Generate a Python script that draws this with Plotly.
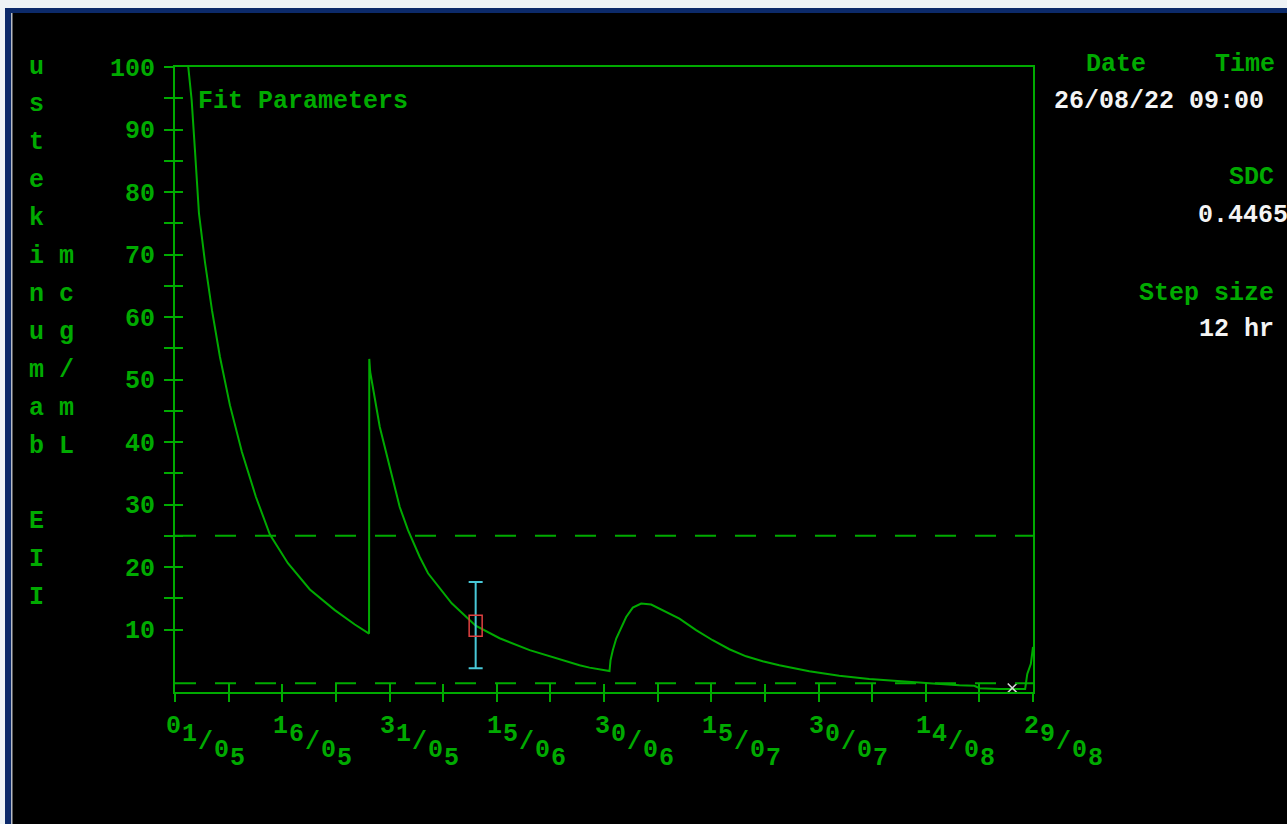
import plotly.graph_objects as go

# ---------------- data ----------------
# days since 01/05 and concentration (mcg/mL)
curve_day = [1.50, 1.86, 2.33, 2.79, 3.35, 4.19, 5.17, 6.29, 7.68, 9.36, 11.32, 13.27,
             15.79, 18.86, 22.35, 25.15, 27.14, 27.17, 27.30, 28.64, 29.57, 30.50, 31.43,
             32.59, 34.23, 35.39, 38.70, 42.05, 45.40, 49.60, 53.79, 56.58, 57.98, 59.37,
             60.77, 60.91, 61.23, 61.71, 62.41, 63.10, 64.03, 65.20, 66.60, 68.22, 70.55,
             72.88, 75.20, 77.54, 79.87, 82.19, 84.52, 88.71, 92.90, 97.10, 101.3, 105.5,
             109.7, 111.8, 112.5, 115.3, 118.9, 119.0, 119.2, 119.7, 119.9, 120.0]
curve_val = [104.0, 100.0, 94.7, 86.7, 76.6, 68.8, 61.1, 53.6, 45.9, 38.4, 31.2, 25.2,
             20.6, 16.4, 13.1, 10.8, 9.35, 53.3, 51.2, 42.4, 38.2, 33.9, 29.6,
             25.9, 21.6, 19.0, 14.2, 10.6, 8.6, 6.7, 5.2, 4.27, 3.9, 3.6,
             3.36, 5.07, 6.68, 8.55, 10.4, 12.0, 13.5, 14.15, 14.0, 13.1, 11.75,
             9.9, 8.28, 6.84, 5.71, 4.91, 4.27, 3.31, 2.6, 2.1, 1.7, 1.4,
             1.07, 1.0, 0.6, 0.5, 0.5, 1.35, 2.9, 4.5, 5.9, 7.2]

threshold_vals = [25.0, 1.4]

measure_day = [42.05]
measure_val = [10.6]
measure_err_plus = [7.0]
measure_err_minus = [6.8]

current_day = [117.1]
current_val = [0.64]

x_label_days = [0, 15, 30, 45, 60, 75, 90, 105, 120]
x_tick_labels = ["01/05", "16/05", "31/05", "15/06", "30/06", "15/07", "30/07", "14/08", "29/08"]
x_tick_days = [0, 7.5, 15, 22.5, 30, 37.5, 45, 52.5, 60, 67.5, 75, 82.5, 90, 97.5, 105, 112.5, 120]

y_tick_vals = [10, 15, 20, 25, 30, 35, 40, 45, 50, 55, 60, 65, 70, 75, 80, 85, 90, 95, 100]
y_tick_labels = ["10", "", "20", "", "30", "", "40", "", "50", "", "60", "", "70", "", "80", "", "90", "", "100"]

ylabel_col1 = ["u", "s", "t", "e", "k", "i", "n", "u", "m", "a", "b", "", "E", "I", "I"]
ylabel_col2 = ["", "", "", "", "", "m", "c", "g", "/", "m", "L", "", "", "", ""]

panel_title = "Fit Parameters"
info_date_head, info_time_head = "Date", "Time"
info_datetime = "26/08/22 09:00"
info_sdc_head, info_sdc = "SDC", "0.4465"
info_step_head, info_step = "Step size", "12 hr"

# ---------------- style ----------------
GREEN = "#00aa00"
WHITE = "#f4f4f4"
CYAN = "#48c8d8"
RED = "#e04040"
FONT = "Liberation Mono"
FS = 25

W, H = 1287, 824
L, R, T, B = 175, 254, 67, 132
PW, PH = W - L - R, H - T - B


def paper(px, py):
    return (px - L) / PW, (H - B - py) / PH


fig = go.Figure()

fig.add_trace(go.Scatter(x=curve_day, y=curve_val, mode="lines",
                         line=dict(color=GREEN, width=2), hoverinfo="skip",
                         showlegend=False))

fig.add_trace(go.Scatter(x=measure_day, y=measure_val, mode="markers",
                         marker=dict(size=1, color="rgba(0,0,0,0)"),
                         error_y=dict(type="data", symmetric=False,
                                      array=measure_err_plus, arrayminus=measure_err_minus,
                                      color=CYAN, thickness=2, width=7),
                         xaxis="x2", yaxis="y2", showlegend=False))

fig.add_trace(go.Scatter(x=current_day, y=current_val, mode="markers",
                         marker=dict(symbol="x-thin", size=9, color="#d8d8d8",
                                     line=dict(color="#d8d8d8", width=1.6)),
                         showlegend=False))

shapes = []
for tv in threshold_vals:
    shapes.append(dict(type="line", xref="x", yref="y", x0=0, x1=120, y0=tv, y1=tv,
                       line=dict(color=GREEN, width=2, dash="21px,19px")))
shapes.append(dict(type="rect", xref="x", yref="y",
                   xsizemode="pixel", xanchor=measure_day[0], x0=-6.5, x1=6.5,
                   ysizemode="pixel", yanchor=measure_val[0], y0=-10.5, y1=10.5,
                   line=dict(color=RED, width=1.5)))

# window border decorations (top/left)
def rect_px(x0, y0, x1, y1, color):
    a0, b0 = paper(x0, y0)
    a1, b1 = paper(x1, y1)
    return dict(type="rect", xref="paper", yref="paper", x0=a0, y0=b1, x1=a1, y1=b0,
                fillcolor=color, line=dict(width=0), layer="above")

shapes.append(rect_px(0, 0, W, 8, "#eef3f6"))
shapes.append(rect_px(0, 8, W, 13, "#0c2a6a"))
shapes.append(rect_px(0, 0, 5, H, "#eef3f6"))
shapes.append(rect_px(5, 8, 11, H, "#0c2a6a"))
shapes.append(rect_px(11, 13, 12.5, H, "#b8bcc4"))

annotations = []
font_g = dict(family=FONT, size=FS, color=GREEN, weight="bold")
font_w = dict(family=FONT, size=FS, color=WHITE, weight="bold")

# diagonal x tick labels, one character at a time
for d, lab in zip(x_label_days, x_tick_labels):
    for i, ch in enumerate(lab):
        annotations.append(dict(x=d, y=0, xref="x", yref="y", text=ch, showarrow=False,
                                xanchor="center", yanchor="middle",
                                xshift=-2 + 16 * i, yshift=-(34 + 8 * i),
                                font=font_g))

# vertical y-axis title letters
for k, (c1, c2) in enumerate(zip(ylabel_col1, ylabel_col2)):
    yc = 67 + 37.9 * k
    for ch, xc in ((c1, 36), (c2, 67)):
        if ch:
            ax, ay = paper(xc, yc)
            annotations.append(dict(x=ax, y=ay, xref="paper", yref="paper", text=ch,
                                    showarrow=False, xanchor="center", yanchor="middle",
                                    font=font_g))


def txt(text, px, py, anchor, font):
    ax, ay = paper(px, py)
    annotations.append(dict(x=ax, y=ay, xref="paper", yref="paper", text=text,
                            showarrow=False, xanchor=anchor, yanchor="middle", font=font))


txt(panel_title, 196, 101, "left", font_g)
txt(info_date_head, 1116, 64, "center", font_g)
txt(info_time_head, 1245, 64, "center", font_g)
txt(info_datetime, 1052, 101, "left", font_w)
txt(info_sdc_head, 1276, 177, "right", font_g)
txt(info_sdc, 1196, 216, "left", font_w)
txt(info_step_head, 1276, 293, "right", font_g)
txt(info_step, 1276, 329, "right", font_w)

axis_common = dict(showgrid=False, zeroline=False, tickcolor=GREEN, tickwidth=2)

fig.update_layout(
    width=W, height=H,
    margin=dict(l=L, r=R, t=T, b=B, pad=0),
    paper_bgcolor="black", plot_bgcolor="black",
    showlegend=False,
    shapes=shapes, annotations=annotations,
    xaxis=dict(range=[0, 120], tickvals=x_tick_days, ticks="outside", ticklen=8,
               showticklabels=False, showline=True, linecolor=GREEN, linewidth=2,
               mirror=True, **axis_common),
    xaxis2=dict(range=[0, 120], overlaying="x", anchor="y", tickvals=x_tick_days,
                ticks="inside", ticklen=8, showticklabels=False, showline=False,
                **axis_common),
    yaxis=dict(range=[0, 100], tickvals=y_tick_vals, ticktext=y_tick_labels,
               ticks="outside", ticklen=9, showline=True, linecolor=GREEN, linewidth=2,
               mirror=True, tickfont=font_g, ticklabelstandoff=4, **axis_common),
    yaxis2=dict(range=[0, 100], overlaying="y", anchor="x", tickvals=y_tick_vals,
                ticks="inside", ticklen=8, showticklabels=False, showline=False,
                **axis_common),
)

fig.write_html("out.html", config={"displayModeBar": False},
               post_script="document.body.style.margin='0';document.body.style.overflow='hidden';")
